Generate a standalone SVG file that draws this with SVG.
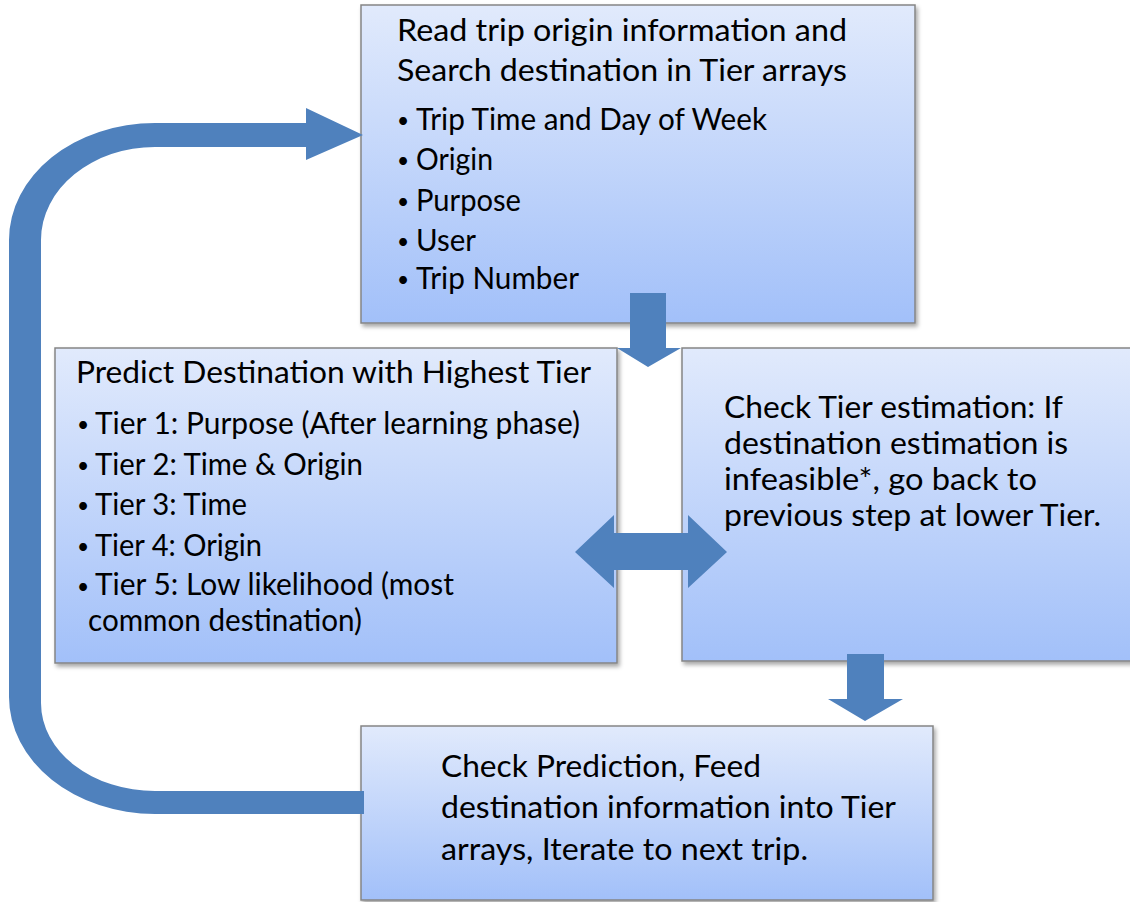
<svg xmlns="http://www.w3.org/2000/svg" width="1130" height="902" viewBox="0 0 1130 902">
<defs>
<linearGradient id="boxfill" x1="0" y1="0" x2="0" y2="1">
<stop offset="0" stop-color="#e1eafc"/>
<stop offset="1" stop-color="#a2c0f9"/>
</linearGradient>
<filter id="shadow" x="-5%" y="-5%" width="115%" height="115%">
<feDropShadow dx="2" dy="3" stdDeviation="2" flood-color="#000" flood-opacity="0.35"/>
</filter>
</defs>
<style>
.box { fill: url(#boxfill); stroke: #858585; stroke-width: 1.5; filter: url(#shadow); }
.t { font-family: Lato, "Liberation Sans", sans-serif; font-size: 30px; fill: #000; }
.b { font-family: Lato, "Liberation Sans", sans-serif; font-size: 21px; fill: #000; }
.arrow { fill: #4f81bd; }
</style>
<rect width="1130" height="902" fill="#ffffff"/>

<g id="node-read">
<rect class="box" x="361" y="5" width="554" height="318"/>
<text class="t" x="397" y="41" textLength="450" lengthAdjust="spacingAndGlyphs">Read trip origin information and</text>
<text class="t" x="397" y="81" textLength="450" lengthAdjust="spacingAndGlyphs">Search destination in Tier arrays</text>
<text class="b" x="397" y="128">•</text>
<text class="t" x="416" y="130" textLength="351" lengthAdjust="spacingAndGlyphs">Trip Time and Day of Week</text>
<text class="b" x="397" y="168">•</text>
<text class="t" x="416" y="170" textLength="77" lengthAdjust="spacingAndGlyphs">Origin</text>
<text class="b" x="397" y="209">•</text>
<text class="t" x="416" y="211" textLength="105" lengthAdjust="spacingAndGlyphs">Purpose</text>
<text class="b" x="397" y="249">•</text>
<text class="t" x="416" y="251" textLength="60" lengthAdjust="spacingAndGlyphs">User</text>
<text class="b" x="397" y="287">•</text>
<text class="t" x="416" y="289" textLength="163" lengthAdjust="spacingAndGlyphs">Trip Number</text>
</g>

<g id="node-predict">
<rect class="box" x="55" y="348" width="562" height="315"/>
<text class="t" x="76" y="383" textLength="515" lengthAdjust="spacingAndGlyphs">Predict Destination with Highest Tier</text>
<text class="b" x="77" y="432">•</text>
<text class="t" x="95" y="434" textLength="485" lengthAdjust="spacingAndGlyphs">Tier 1: Purpose (After learning phase)</text>
<text class="b" x="77" y="473">•</text>
<text class="t" x="95" y="475" textLength="268" lengthAdjust="spacingAndGlyphs">Tier 2: Time &amp; Origin</text>
<text class="b" x="77" y="513">•</text>
<text class="t" x="95" y="515" textLength="152" lengthAdjust="spacingAndGlyphs">Tier 3: Time</text>
<text class="b" x="77" y="554">•</text>
<text class="t" x="95" y="556" textLength="167" lengthAdjust="spacingAndGlyphs">Tier 4: Origin</text>
<text class="b" x="77" y="594">•</text>
<text class="t" x="95" y="595" textLength="359" lengthAdjust="spacingAndGlyphs">Tier 5: Low likelihood (most</text>
<text class="t" x="88" y="631" textLength="274" lengthAdjust="spacingAndGlyphs">common destination)</text>
</g>

<g id="node-check-tier">
<rect class="box" x="682" y="348" width="470" height="313"/>
<text class="t" x="724" y="418" textLength="339" lengthAdjust="spacingAndGlyphs">Check Tier estimation: If</text>
<text class="t" x="724" y="454" textLength="344" lengthAdjust="spacingAndGlyphs">destination estimation is</text>
<text class="t" x="724" y="490" textLength="313" lengthAdjust="spacingAndGlyphs">infeasible*, go back to</text>
<text class="t" x="724" y="526" textLength="377" lengthAdjust="spacingAndGlyphs">previous step at lower Tier.</text>
</g>

<g id="node-check-prediction">
<rect class="box" x="361" y="726" width="572" height="174"/>
<text class="t" x="441" y="777" textLength="320" lengthAdjust="spacingAndGlyphs">Check Prediction, Feed</text>
<text class="t" x="441" y="818" textLength="455" lengthAdjust="spacingAndGlyphs">destination information into Tier</text>
<text class="t" x="441" y="860" textLength="367" lengthAdjust="spacingAndGlyphs">arrays, Iterate to next trip.</text>
</g>

<g id="connectors">
<path class="arrow" d="M630 293 L666 293 L666 348 L681 348 L648 367 L617 348 L630 348 Z"/>
<path class="arrow" d="M575 552 L614 515 L614 533 L688 533 L688 515 L727 552 L688 588 L688 570 L614 570 L614 588 Z"/>
<path class="arrow" d="M847 654 L884 654 L884 699 L903 699 L865 721 L828 699 L847 699 Z"/>
<path class="arrow" d="M364 814 L155 814 A146 117 0 0 1 9 697 L9 240 A146 117 0 0 1 155 123 L306 123 L306 108 L363 135 L306 160 L306 147 L155 147 A114 93 0 0 0 41 240 L41 703 A114 88 0 0 0 155 791 L364 791 Z"/>
</g>
</svg>
